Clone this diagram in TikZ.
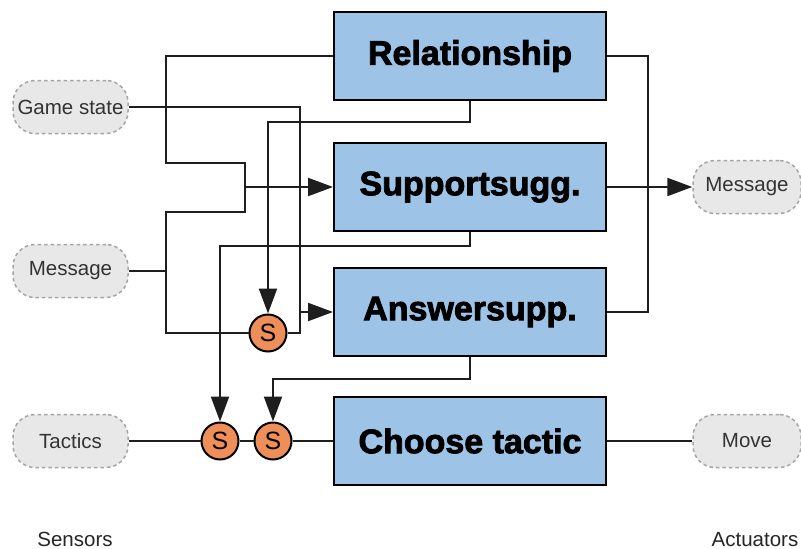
\documentclass[tikz,border=0pt]{standalone}
\usepackage{fontspec}
\setmainfont{Liberation Sans}
\newfontfamily\heavyfont[FakeBold=2.5]{Liberation Sans Bold}
\usetikzlibrary{arrows.meta}

\definecolor{procblue}{RGB}{157,195,230}
\definecolor{iogray}{RGB}{232,232,232}
\definecolor{iodash}{RGB}{165,165,165}
\definecolor{selorange}{RGB}{238,143,90}
\definecolor{wireclr}{RGB}{30,30,30}

\begin{document}
\begin{tikzpicture}[x=1pt,y=-1pt,
  proc/.style={draw=black, line width=2pt, fill=procblue, minimum width=272pt,
    minimum height=88pt, inner sep=0pt, font=\heavyfont\fontsize{34}{40}\selectfont},
  io/.style={draw=iodash, dash pattern=on 3.5pt off 3pt, line width=1.5pt, fill=iogray,
    rounded corners=22pt, minimum height=53pt, inner sep=0pt,
    font=\fontsize{20.5}{24}\selectfont, text=black!80},
  sel/.style={circle, draw=black, line width=2pt, fill=selorange, minimum size=37pt,
    inner sep=0pt, font=\fontsize{25}{27}\selectfont},
  wire/.style={draw=wireclr, line width=2.2pt},
  arr/.style={wire, -{Triangle[length=25pt,width=18pt]}},
  footlabel/.style={inner sep=0pt, anchor=base, font=\fontsize{20.5}{24}\selectfont, text=black!85}
]
\useasboundingbox[fill=white] (0,0) rectangle (801,549);

% behaviour modules
\node[proc] (rel) at (470,56)  {Relationship};
\node[proc] (sup) at (470,187) {Supportsugg.};
\node[proc] (ans) at (470,312) {Answersupp.};
\node[proc] (ct)  at (470,441) {Choose tactic};

% sensors and actuators
\node[io, minimum width=115pt] (gs)   at (70.5,107) {Game state};
\node[io, minimum width=115pt] (msgL) at (70.5,271) {Message};
\node[io, minimum width=115pt] (tac)  at (70.5,441) {Tactics};
\node[io, minimum width=108pt] (msgR) at (747,187)  {Message};
\node[io, minimum width=108pt] (move) at (747,441)  {Move};

% suppressor nodes
\node[sel] (s1) at (268,333) {S};
\node[sel] (s2) at (220,441) {S};
\node[sel] (s3) at (273,441) {S};

\node[footlabel] (sens) at (75,546)  {Sensors};
\node[footlabel] (act)  at (755,546) {Actuators};

% junction points
\coordinate (jSup) at (245,187);
\coordinate (jAns) at (300,312);
\coordinate (jMsg) at (166,271);
\coordinate (jRight) at (648,312);

% inputs of Supportsugg.
\draw[wire] (rel.west) -| (166,163) -| (jSup);
\draw[wire] (msgL.east) -| (166,212) -| (jSup);
\draw[arr] (jSup) -- (sup.west);

% inputs of Answersupp.
\draw[wire] (msgL.east) -- (jMsg) |- (s1.west);
\draw[wire] (gs.east) -| (jAns);
\draw[wire] (s1.east) -| (jAns);
\draw[arr] (jAns) -- (ans.west);

% suppression signals
\draw[arr] (rel.south) -- ++(0,21) -| (s1.north);
\draw[arr] (sup.south) -- ++(0,14) -| (s2.north);
\draw[arr] (ans.south) -- ++(0,22) -| (s3.north);

% tactic chain
\draw[wire] (tac.east) -- (s2.west);
\draw[wire] (s2.east) -- (s3.west);
\draw[wire] (s3.east) -- (ct.west);

% outputs
\draw[wire] (rel.east) -| (jRight) -- (ans.east);
\draw[arr] (sup.east) -- (msgR.west);
\draw[wire] (ct.east) -- (move.west);
\end{tikzpicture}
\end{document}
